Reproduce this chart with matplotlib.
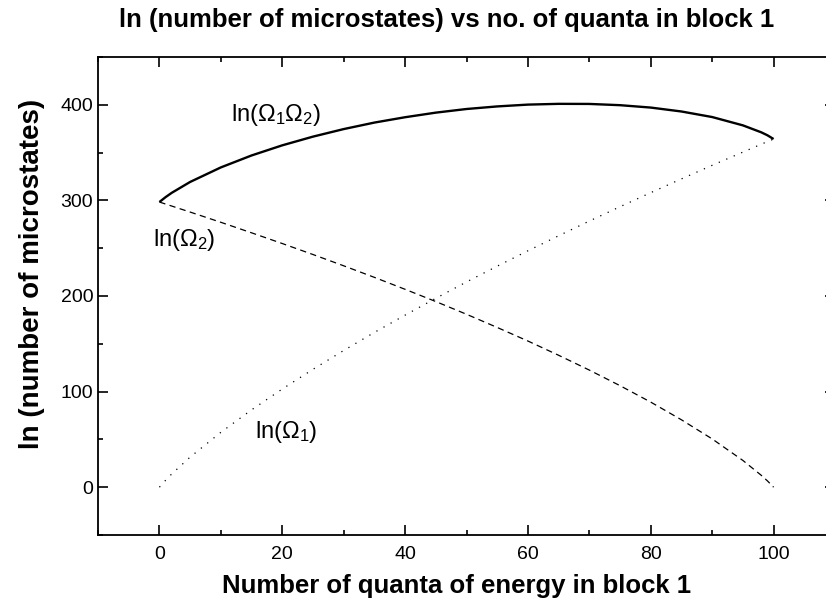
import numpy as np
import matplotlib
matplotlib.use('Agg')
import matplotlib.pyplot as plt
from matplotlib.ticker import MultipleLocator

plt.rcParams['font.family'] = ['Liberation Sans', 'DejaVu Sans']
plt.rcParams['mathtext.fontset'] = 'custom'
plt.rcParams['mathtext.rm'] = 'Liberation Sans'
plt.rcParams['mathtext.it'] = 'Liberation Sans:italic'

# quanta in block 1 (100 quanta in total)
quanta = [0, 1, 2, 5, 10, 15, 20, 25, 30, 35, 40, 45, 50,
          55, 60, 65, 70, 75, 80, 85, 90, 95, 98, 99, 100]
ln_omega1 = [0, 7.2, 13.8, 31.5, 57.4, 80.9, 102.7, 123.3, 143.0, 161.9, 180.0, 197.6, 214.7,
             231.2, 247.3, 263.0, 278.4, 293.4, 308.1, 322.5, 336.7, 350.5, 358.8, 361.5, 364.2]
ln_omega2 = [298.3, 296.2, 294.1, 287.8, 277.1, 266.1, 254.9, 243.4, 231.6, 219.5, 207.0, 194.2, 180.9,
             167.1, 152.9, 138.0, 122.5, 106.2, 89.0, 70.5, 50.5, 28.0, 12.4, 6.6, 0]
ln_omega12 = [298.3, 303.4, 307.9, 319.3, 334.5, 347.0, 357.6, 366.7, 374.6, 381.4, 387.0, 391.8, 395.6,
              398.3, 400.2, 401.0, 400.9, 399.6, 397.1, 393.0, 387.2, 378.5, 371.2, 368.1, 364.2]

fig = plt.figure(figsize=(8.26, 6.06), dpi=100)
ax = fig.add_axes([98 / 826, 1 - 535 / 606, 737 / 826, 478 / 606])

ax.plot(quanta, ln_omega12, color='black', lw=1.7, solid_capstyle='butt')
ax.plot(quanta, ln_omega2, color='black', lw=0.9, linestyle=(0, (5, 3.5)))
ax.plot(quanta, ln_omega1, color='black', lw=0.9, linestyle=(0, (1, 5.5)))

ax.text(11.7, 389, r'ln($\Omega_1\Omega_2$)', fontsize=17, va='center', ha='left')
ax.text(-1.1, 259, r'ln($\Omega_2$)', fontsize=17, va='center', ha='left')
ax.text(15.5, 58, r'ln($\Omega_1$)', fontsize=17, va='center', ha='left')

ax.set_xlim(-10, 110)
ax.set_ylim(-50, 450)
ax.xaxis.set_major_locator(MultipleLocator(20))
ax.xaxis.set_minor_locator(MultipleLocator(10))
ax.yaxis.set_major_locator(MultipleLocator(100))
ax.yaxis.set_minor_locator(MultipleLocator(50))
ax.set_xticks([0, 20, 40, 60, 80, 100])
ax.tick_params(which='both', direction='in', top=True, right=True, width=1.2, labelsize=14)
ax.tick_params(which='major', length=7)
ax.tick_params(which='minor', length=3.5)
ax.tick_params(axis='x', pad=8)
for s in ax.spines.values():
    s.set_linewidth(1.3)

fig.text(447 / 826, 1 - 20 / 606, 'ln (number of microstates) vs no. of quanta in block 1',
         fontsize=18.5, fontweight='bold', ha='center', va='center')
fig.text(457 / 826, 1 - 586 / 606, 'Number of quanta of energy in block 1',
         fontsize=18.5, fontweight='bold', ha='center', va='center')
fig.text(32 / 826, 1 - 274 / 606, 'ln (number of microstates)',
         fontsize=20, fontweight='bold', ha='center', va='center', rotation=90)

fig.savefig('out.png', dpi=100)
